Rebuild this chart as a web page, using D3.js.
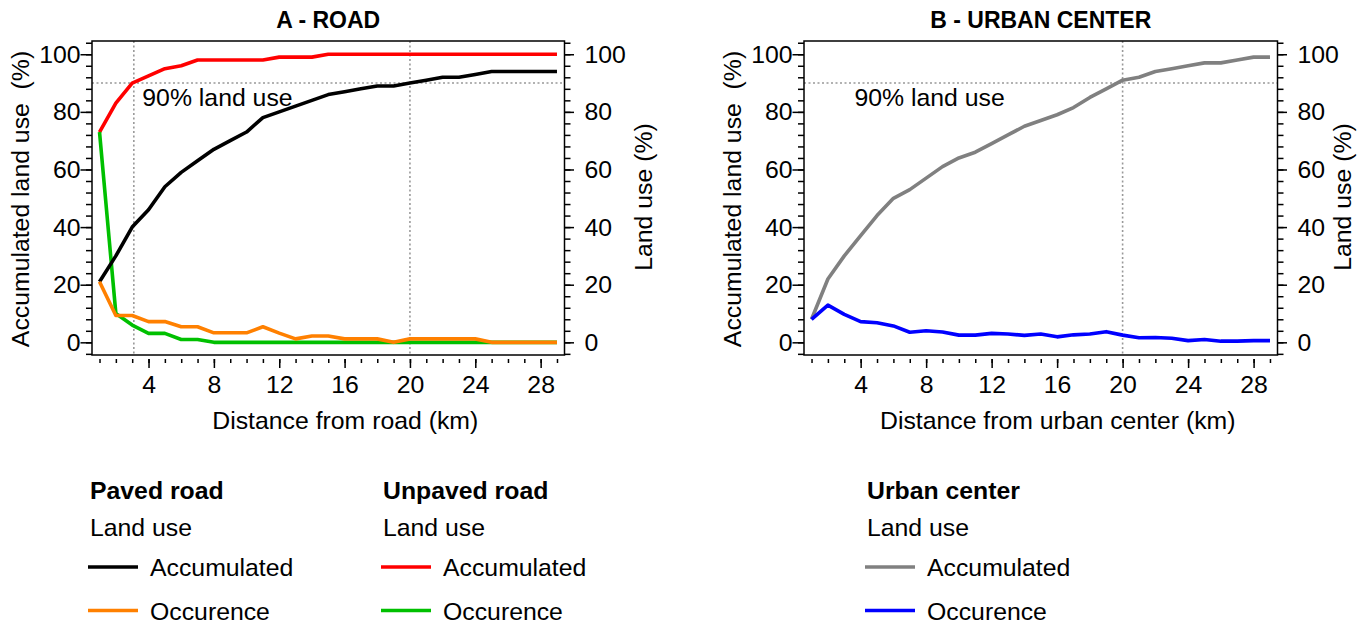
<!DOCTYPE html>
<html>
<head>
<meta charset="utf-8">
<script src="https://cdn.jsdelivr.net/npm/d3@7"></script>
<style>
body { margin: 0; background: #fff; }
svg text { font-family: "Liberation Sans", Arial, sans-serif; fill: #000; }
</style>
</head>
<body>
<div id="chart-area"></div>
<script>
// distance from road / urban center (km)
var km = [1, 2, 3, 4, 5, 6, 7, 8, 9, 10, 11, 12, 13, 14, 15, 16, 17, 18, 19, 20,
          21, 22, 23, 24, 25, 26, 27, 28, 29];

// A - road
var pavedAccum = [21, 30, 40, 46, 54, 59, 63, 67, 70, 73, 78, 80, 82, 84, 86, 87, 88, 89, 89, 90,
                  91, 92, 92, 93, 94, 94, 94, 94, 94];
var pavedOccur = [21, 9.3, 9.3, 7.2, 7.2, 5.4, 5.4, 3.3, 3.3, 3.3, 5.4, 3.2, 1.2, 2.2, 2.2, 1.2, 1.2, 1.2, 0, 1.2,
                  1.2, 1.2, 1.2, 1.2, 0, 0, 0, 0, 0];
var unpavedAccum = [73, 83, 90, 92.5, 95, 96, 98, 98, 98, 98, 98, 99, 99, 99, 100, 100, 100, 100, 100, 100,
                    100, 100, 100, 100, 100, 100, 100, 100, 100];
var unpavedOccur = [73, 10, 6, 3.1, 3.1, 1, 1, 0, 0, 0, 0, 0, 0, 0, 0, 0, 0, 0, 0, 0,
                    0, 0, 0, 0, 0, 0, 0, 0, 0];

// B - urban center
var urbanAccum = [8, 22, 30, 37, 44, 50, 53, 57, 61, 64, 66, 69, 72, 75, 77, 79, 81.5, 85, 88, 91,
                  92, 94, 95, 96, 97, 97, 98, 99, 99];
var urbanOccur = [8, 12.9, 9.7, 7.2, 6.8, 5.7, 3.5, 4.0, 3.6, 2.5, 2.5, 3.1, 2.9, 2.4, 2.9, 1.9, 2.6, 2.9, 3.7, 2.5,
                  1.6, 1.7, 1.4, 0.6, 1.0, 0.4, 0.4, 0.6, 0.6];

var xMajorTicks = [4, 8, 12, 16, 20, 24, 28];
var yMajorTicks = [0, 20, 40, 60, 80, 100];
var yMinorTicks = [-4, 0, 4, 8, 12, 16, 20, 24, 28, 32, 36, 40, 44, 48, 52, 56, 60, 64, 68, 72,
                   76, 80, 84, 88, 92, 96, 100, 104];

var fs = 24.8;
var svg = d3.select('#chart-area')
    .append('svg')
        .attr('width', 1365)
        .attr('height', 623);

var panels = [
    {
        title: 'A - ROAD', xLabel: 'Distance from road (km)',
        left: 92, right: 564.5, top: 41, bottom: 355, rightLab: 87,
        vLines: [3.1, 20],
        series: [
            { values: unpavedAccum, color: '#ff0000' },
            { values: unpavedOccur, color: '#00c000' },
            { values: pavedAccum, color: '#000000' },
            { values: pavedOccur, color: '#ff8000' }
        ]
    },
    {
        title: 'B - URBAN CENTER', xLabel: 'Distance from urban center (km)',
        left: 804, right: 1277.5, top: 41, bottom: 355, rightLab: 73,
        vLines: [20],
        series: [
            { values: urbanAccum, color: '#808080' },
            { values: urbanOccur, color: '#0000ff' }
        ]
    }
];

panels.forEach(p => {
    var x = d3.scaleLinear().domain([0.54, 29.46]).range([p.left, p.right]);
    var y = d3.scaleLinear().domain([-4.4, 104.6]).range([p.bottom, p.top]);
    var g = svg.append('g');

    // reference lines
    g.append('line')
        .attr('x1', p.left).attr('x2', p.right)
        .attr('y1', y(90)).attr('y2', y(90))
        .attr('stroke', '#999').attr('stroke-width', 1.6).attr('stroke-dasharray', '2,2.5');
    p.vLines.forEach(v => {
        g.append('line')
            .attr('x1', x(v)).attr('x2', x(v))
            .attr('y1', p.top).attr('y2', p.bottom)
            .attr('stroke', '#999').attr('stroke-width', 1.6).attr('stroke-dasharray', '2,2.5');
    });

    g.append('text')
        .attr('x', x(3.62))
        .attr('y', y(82))
        .attr('font-size', fs)
        .text('90% land use');

    var line = d3.line()
        .x((d, i) => x(km[i]))
        .y(d => y(d));

    p.series.forEach(s => {
        g.append('path')
            .datum(s.values)
            .attr('d', line)
            .attr('fill', 'none')
            .attr('stroke', s.color)
            .attr('stroke-width', 3.6)
            .attr('stroke-linejoin', 'round');
    });

    // box
    g.append('rect')
        .attr('x', p.left).attr('y', p.top)
        .attr('width', p.right - p.left).attr('height', p.bottom - p.top)
        .attr('fill', 'none').attr('stroke', '#000').attr('stroke-width', 1.5);

    // x axis (ticks hang a little below the box)
    var xg = g.append('g').attr('transform', 'translate(0,' + (p.bottom + 4) + ')');
    xg.append('g').call(d3.axisBottom(x).tickValues(km).tickSize(4).tickFormat(''));
    xg.append('g').call(d3.axisBottom(x).tickValues(xMajorTicks).tickSize(9).tickPadding(7));

    // left y axis
    var yl = g.append('g').attr('transform', 'translate(' + p.left + ',0)');
    yl.append('g').call(d3.axisLeft(y).tickValues(yMinorTicks).tickSize(6).tickFormat(''));
    yl.append('g').call(d3.axisLeft(y).tickValues(yMajorTicks).tickSize(11.5).tickPadding(0));

    // right y axis
    var yr = g.append('g').attr('transform', 'translate(' + p.right + ',0)');
    yr.append('g').call(d3.axisRight(y).tickValues(yMinorTicks).tickSize(6).tickFormat(''));
    yr.append('g').call(d3.axisRight(y).tickValues(yMajorTicks).tickSize(9.5).tickPadding(10.5));

    g.selectAll('.domain').remove();
    g.selectAll('.tick line').attr('stroke', '#000').attr('stroke-width', 1.5);
    g.selectAll('.tick text')
        .attr('font-size', fs)
        .attr('font-family', '"Liberation Sans", Arial, sans-serif');

    // titles
    g.append('text')
        .attr('text-anchor', 'middle')
        .attr('x', (p.left + p.right) / 2)
        .attr('y', 28)
        .attr('font-size', 23)
        .attr('font-weight', 'bold')
        .text(p.title);

    g.append('text')
        .attr('text-anchor', 'middle')
        .attr('x', (p.left + p.right) / 2 + 17)
        .attr('y', 429)
        .attr('font-size', fs)
        .text(p.xLabel);

    g.append('text')
        .attr('text-anchor', 'middle')
        .attr('transform', 'translate(' + (p.left - 63) + ',199) rotate(-90)')
        .attr('font-size', fs)
        .style('white-space', 'pre')
        .text('Accumulated land use  (%)');

    g.append('text')
        .attr('text-anchor', 'middle')
        .attr('transform', 'translate(' + (p.right + p.rightLab) + ',197) rotate(-90)')
        .attr('font-size', fs)
        .text('Land use (%)');
});

// legends
var legends = [
    { x: 90, head: 'Paved road', items: [['Accumulated', '#000000'], ['Occurence', '#ff8000']] },
    { x: 383, head: 'Unpaved road', items: [['Accumulated', '#ff0000'], ['Occurence', '#00c000']] },
    { x: 867, head: 'Urban center', items: [['Accumulated', '#808080'], ['Occurence', '#0000ff']] }
];

legends.forEach(l => {
    var lg = svg.append('g');
    lg.append('text')
        .attr('x', l.x).attr('y', 499)
        .attr('font-size', fs).attr('font-weight', 'bold')
        .text(l.head);
    lg.append('text')
        .attr('x', l.x).attr('y', 536)
        .attr('font-size', fs)
        .text('Land use');
    l.items.forEach((it, i) => {
        var yy = 567 + i * 43.5;
        lg.append('line')
            .attr('x1', l.x - 2).attr('x2', l.x + 48)
            .attr('y1', yy).attr('y2', yy)
            .attr('stroke', it[1]).attr('stroke-width', 3.6);
        lg.append('text')
            .attr('x', l.x + 60).attr('y', yy + 9)
            .attr('font-size', fs)
            .text(it[0]);
    });
});
</script>
</body>
</html>
